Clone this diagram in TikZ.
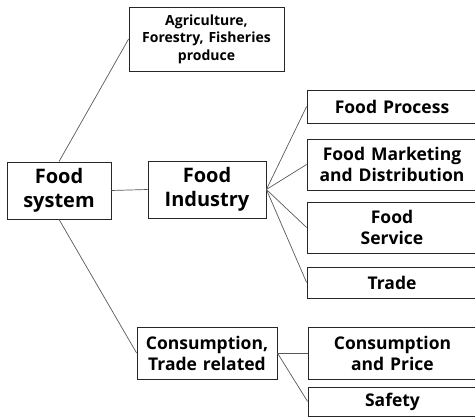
\documentclass[tikz,border=0pt]{standalone}
\usepackage{fontspec}
\setmainfont{Open Sans}[WordSpace=1.3]
\begin{document}
\begin{tikzpicture}[x=1pt,y=-1pt,
        box/.style={draw=black!85,line width=0.8pt,rectangle,inner sep=0pt,align=center},
        big/.style={font=\bfseries\fontsize{20}{23.5}\selectfont},
        mid/.style={font=\bfseries\fontsize{17.5}{21}\selectfont},
        small/.style={font=\bfseries\fontsize{14}{17.5}\selectfont},
        link/.style={draw=black!65,line width=0.7pt}]
        \useasboundingbox (0,0) rectangle (475,417);
        \node[box,small,minimum width=155pt,minimum height=64pt] (agr) at (206.5,39) {Agriculture,\\Forestry, Fisheries\\produce};
        \node[box,big,minimum width=104pt,minimum height=57pt] (sys) at (59,190.5) {Food\\system};
        \node[box,big,minimum width=118pt,minimum height=57pt] (ind) at (207,189.5) {Food\\Industry};
        \node[box,mid,minimum width=140pt,minimum height=52pt] (cons) at (207,353) {Consumption,\\Trade related};
        \node[box,mid,minimum width=170pt,minimum height=33pt] (proc) at (392,106.5) {Food Process};
        \node[box,mid,minimum width=170pt,minimum height=51pt] (mkt) at (392,164.5) {Food Marketing\\and Distribution};
        \node[box,mid,minimum width=170pt,minimum height=51pt] (serv) at (392,227.5) {Food\\Service};
        \node[box,mid,minimum width=170pt,minimum height=31pt] (trade) at (392,282.5) {Trade};
        \node[box,mid,minimum width=169pt,minimum height=52pt] (price) at (392.5,353) {Consumption\\and Price};
        \node[box,mid,minimum width=169pt,minimum height=29pt] (safe) at (392.5,401.5) {Safety};
        \draw[link] (sys.north) -- (agr.west);
        \draw[link] (sys.east) -- (ind.west);
        \draw[link] (sys.south) -- (cons.west);
        \draw[link] (ind.east) -- (proc.west);
        \draw[link] (ind.east) -- (mkt.west);
        \draw[link] (ind.east) -- (serv.west);
        \draw[link] (ind.east) -- (trade.west);
        \draw[link] (cons.east) -- (price.west);
        \draw[link] (cons.east) -- (safe.west);
\end{tikzpicture}
\end{document}
